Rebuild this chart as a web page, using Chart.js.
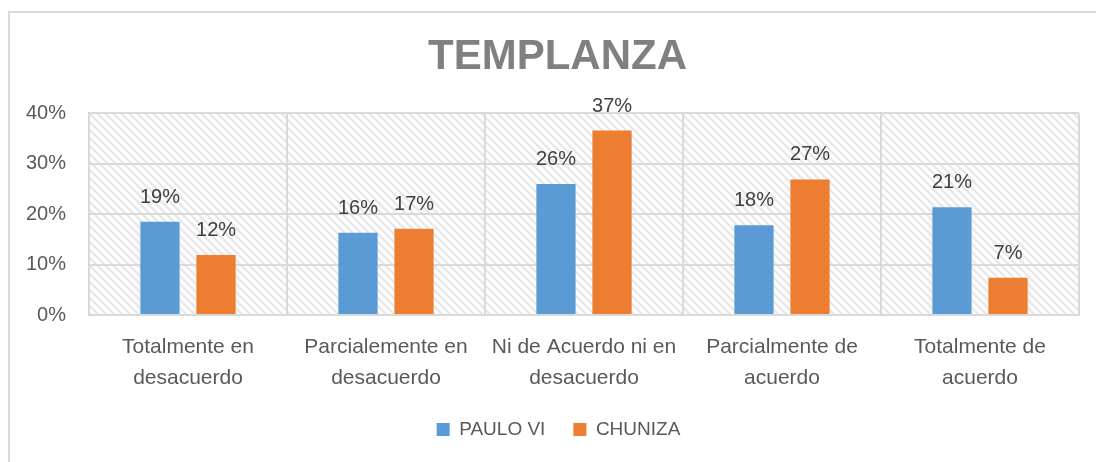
<!DOCTYPE html>
<html>
<head>
<meta charset="utf-8">
<script src="https://cdn.jsdelivr.net/npm/chart.js@4.4.1/dist/chart.umd.min.js"></script>
<style>
  html, body { margin: 0; padding: 0; background: #fff; }
  #wrap { width: 1096px; height: 462px; }
</style>
</head>
<body>
<div id="wrap"><canvas id="templanzaChart" width="1096" height="462"></canvas></div>
<script>
// Chart data
const categories = [
    ['Totalmente en', 'desacuerdo'],
    ['Parcialemente en', 'desacuerdo'],
    ['Ni de Acuerdo ni en', 'desacuerdo'],
    ['Parcialmente de', 'acuerdo'],
    ['Totalmente de', 'acuerdo']
];
const pauloVI = [18.5, 16.3, 26.0, 17.8, 21.4];
const chuniza = [11.9, 17.1, 36.6, 26.9, 7.4];
const yTicks = [0, 10, 20, 30, 40];

const fontFamily = '"Liberation Sans", Arial, sans-serif';

// Diagonal hatch for the plot area
function makeHatch() {
    const c = document.createElement('canvas');
    c.width = 8;
    c.height = 8;
    const g = c.getContext('2d');
    g.fillStyle = '#ffffff';
    g.fillRect(0, 0, 8, 8);
    g.strokeStyle = '#e8e8e8';
    g.lineWidth = 2.5;
    g.beginPath();
    g.moveTo(-2, -2); g.lineTo(10, 10);
    g.moveTo(-2, 6); g.lineTo(2, 10);
    g.moveTo(6, -2); g.lineTo(10, 2);
    g.stroke();
    return g.createPattern(c, 'repeat');
}

const backgroundPlugin = {
    id: 'background',
    afterLayout(chart) {
        // title and legend sit a little right of the canvas centre
        chart.titleBlock.left += 18;
        chart.legend.left += 10;
        chart.legend.right += 10;
    },
    beforeDraw(chart) {
        const { ctx, chartArea } = chart;
        ctx.save();
        ctx.fillStyle = makeHatch();
        ctx.fillRect(chartArea.left, chartArea.top, chartArea.right - chartArea.left, chartArea.bottom - chartArea.top);
        // outer chart frame
        ctx.strokeStyle = '#d9d9d9';
        ctx.lineWidth = 2;
        ctx.beginPath();
        ctx.moveTo(9, chart.height);
        ctx.lineTo(9, 12);
        ctx.lineTo(chart.width, 12);
        ctx.stroke();
        ctx.restore();
    }
};

const valueLabels = {
    id: 'valueLabels',
    afterDatasetsDraw(chart) {
        const { ctx } = chart;
        ctx.save();
        ctx.font = '20px ' + fontFamily;
        ctx.fillStyle = '#404040';
        ctx.textAlign = 'center';
        ctx.textBaseline = 'alphabetic';
        chart.data.datasets.forEach((ds, i) => {
            chart.getDatasetMeta(i).data.forEach((bar, j) => {
                ctx.fillText(Math.round(ds.data[j]) + '%', bar.x, bar.y - 19);
            });
        });
        ctx.restore();
    }
};

const ctx = document.getElementById('templanzaChart').getContext('2d');
const templanzaChart = new Chart(ctx, {
    type: 'bar',
    data: {
        labels: categories,
        datasets: [{
            label: 'PAULO VI',
            data: pauloVI,
            backgroundColor: '#5b9bd5'
        }, {
            label: 'CHUNIZA',
            data: chuniza,
            backgroundColor: '#ed7d31'
        }]
    },
    options: {
        responsive: false,
        animation: false,
        categoryPercentage: 0.566,
        barPercentage: 0.7,
        layout: { padding: { left: 18, right: 17, top: 0, bottom: 13 } },
        scales: {
            x: {
                grid: { color: '#d9d9d9', lineWidth: 2, drawTicks: false, offset: true },
                border: { color: '#d9d9d9', width: 2 },
                ticks: {
                    color: '#595959',
                    padding: 16,
                    font: { family: fontFamily, size: 21, lineHeight: 1.5 },
                    maxRotation: 0,
                    autoSkip: false
                },
                afterFit(scale) { scale.height = 77; }
            },
            y: {
                min: 0,
                max: 40,
                afterBuildTicks(scale) { scale.ticks = yTicks.map(v => ({ value: v })); },
                grid: { color: '#d9d9d9', lineWidth: 2, drawTicks: false },
                border: { color: '#d9d9d9', width: 2 },
                ticks: {
                    color: '#595959',
                    padding: 23,
                    font: { family: fontFamily, size: 20 },
                    callback: value => value + '%'
                },
                afterFit(scale) { scale.width = 71; }
            }
        },
        plugins: {
            title: {
                display: true,
                text: 'TEMPLANZA',
                color: '#808080',
                font: { family: fontFamily, size: 42, weight: 'bold' },
                padding: { top: 32, bottom: 31 }
            },
            legend: {
                position: 'bottom',
                labels: {
                    color: '#595959',
                    boxWidth: 13,
                    boxHeight: 13,
                    padding: 28,
                    font: { family: fontFamily, size: 19 }
                }
            },
            tooltip: { enabled: false }
        }
    },
    plugins: [backgroundPlugin, valueLabels]
});
</script>
</body>
</html>
